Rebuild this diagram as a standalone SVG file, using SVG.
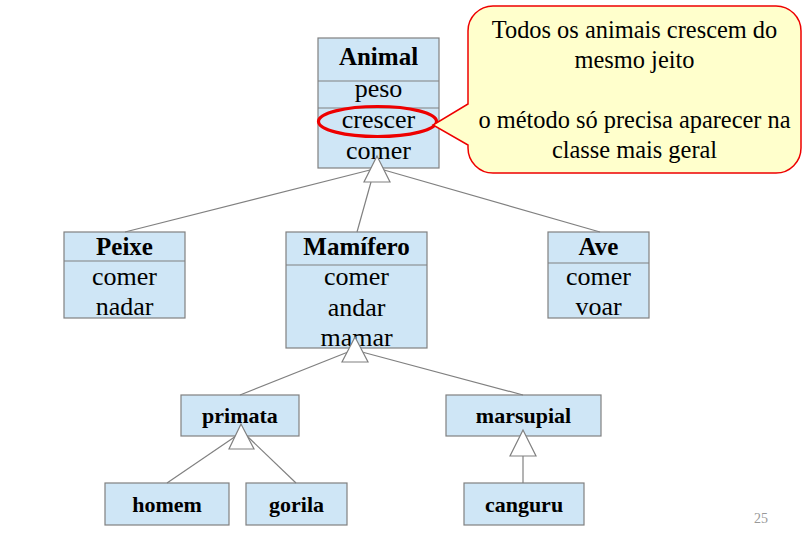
<svg xmlns="http://www.w3.org/2000/svg" width="803" height="543" viewBox="0 0 803 543">
<style>
.box{fill:#cfe6f6;stroke:#808080;stroke-width:1.2}
.div{stroke:#808080;stroke-width:1.2}
.line{stroke:#808080;stroke-width:1.2;fill:none}
.tri{fill:#fff;stroke:#808080;stroke-width:1.2}
</style>
<rect width="803" height="543" fill="#fff"/>
<g id="animal" font-family="'Liberation Serif', serif" text-anchor="middle" font-size="26">
<rect class="box" x="318" y="38" width="121" height="130"/>
<line class="div" x1="318" y1="81" x2="439" y2="81"/>
<line class="div" x1="318" y1="108" x2="439" y2="108"/>
<text font-weight="bold" font-size="25" x="378.5" y="65">Animal</text>
<text x="378.5" y="97">peso</text>
<text x="378.5" y="128">crescer</text>
<text x="378.5" y="159">comer</text>
</g>
<g id="peixe" font-family="'Liberation Serif', serif" text-anchor="middle" font-size="26">
<rect class="box" x="64" y="232" width="121" height="86"/>
<line class="div" x1="64" y1="261" x2="185" y2="261"/>
<text font-weight="bold" font-size="25" x="124.5" y="255">Peixe</text>
<text x="124.5" y="285">comer</text>
<text x="124.5" y="315">nadar</text>
</g>
<g id="mamifero" font-family="'Liberation Serif', serif" text-anchor="middle" font-size="26">
<rect class="box" x="286" y="232" width="141" height="116"/>
<line class="div" x1="286" y1="265" x2="427" y2="265"/>
<text font-weight="bold" font-size="25" x="356.5" y="255">Mamífero</text>
<text x="356.5" y="285">comer</text>
<text x="356.5" y="316">andar</text>
<text x="356.5" y="346">mamar</text>
</g>
<g id="ave" font-family="'Liberation Serif', serif" text-anchor="middle" font-size="26">
<rect class="box" x="548" y="232" width="101" height="86"/>
<line class="div" x1="548" y1="263" x2="649" y2="263"/>
<text font-weight="bold" font-size="25" x="598.5" y="255">Ave</text>
<text x="598.5" y="285">comer</text>
<text x="598.5" y="315">voar</text>
</g>
<g id="primata" font-family="'Liberation Serif', serif" text-anchor="middle" font-size="22" font-weight="bold">
<rect class="box" x="181" y="395" width="118" height="41"/>
<text x="240" y="423">primata</text>
</g>
<g id="marsupial" font-family="'Liberation Serif', serif" text-anchor="middle" font-size="22" font-weight="bold">
<rect class="box" x="446" y="395" width="155" height="41"/>
<text x="523.5" y="423">marsupial</text>
</g>
<g id="homem" font-family="'Liberation Serif', serif" text-anchor="middle" font-size="22" font-weight="bold">
<rect class="box" x="105" y="483" width="124" height="42"/>
<text x="167" y="512">homem</text>
</g>
<g id="gorila" font-family="'Liberation Serif', serif" text-anchor="middle" font-size="22" font-weight="bold">
<rect class="box" x="246" y="483" width="101" height="42"/>
<text x="296.5" y="512">gorila</text>
</g>
<g id="canguru" font-family="'Liberation Serif', serif" text-anchor="middle" font-size="22" font-weight="bold">
<rect class="box" x="464" y="483" width="120" height="42"/>
<text x="524" y="512">canguru</text>
</g>
<g id="connectors">
<line class="line" x1="125" y1="232" x2="370" y2="170"/>
<line class="line" x1="357" y1="232" x2="371" y2="182"/>
<line class="line" x1="600" y1="232" x2="384" y2="170"/>
<polygon class="tri" points="377,156 364,182 390,182"/>
<line class="line" x1="240" y1="395" x2="348" y2="352"/>
<line class="line" x1="523" y1="395" x2="362" y2="352"/>
<polygon class="tri" points="355,337 342,362 368,362"/>
<line class="line" x1="167" y1="483" x2="236" y2="436"/>
<line class="line" x1="296" y1="483" x2="247" y2="436"/>
<polygon class="tri" points="241,424 229,449 254,449"/>
<line class="line" x1="523" y1="483" x2="523" y2="456"/>
<polygon class="tri" points="523,430 510,456 536,456"/>
</g>
<g id="callout" font-family="'Liberation Serif', serif" text-anchor="middle" font-size="24.4">
<ellipse cx="377.5" cy="121.5" rx="59" ry="15" fill="none" stroke="#ee0000" stroke-width="3.2"/>
<path d="M493,6 H776 A25,25 0 0 1 801,31 V148 A25,25 0 0 1 776,173 H493 A25,25 0 0 1 468,148 V145 L433,125 L468,104 V31 A25,25 0 0 1 493,6 Z" fill="#ffffcc" stroke="#ee0000" stroke-width="1.5"/>
<text x="634.5" y="38">Todos os animais crescem do</text>
<text x="634.5" y="68">mesmo jeito</text>
<text x="634.5" y="128">o método só precisa aparecer na</text>
<text x="634.5" y="158">classe mais geral</text>
</g>
<text x="761" y="523" font-family="'Liberation Serif', serif" font-size="14" fill="#999" text-anchor="middle">25</text>
</svg>
